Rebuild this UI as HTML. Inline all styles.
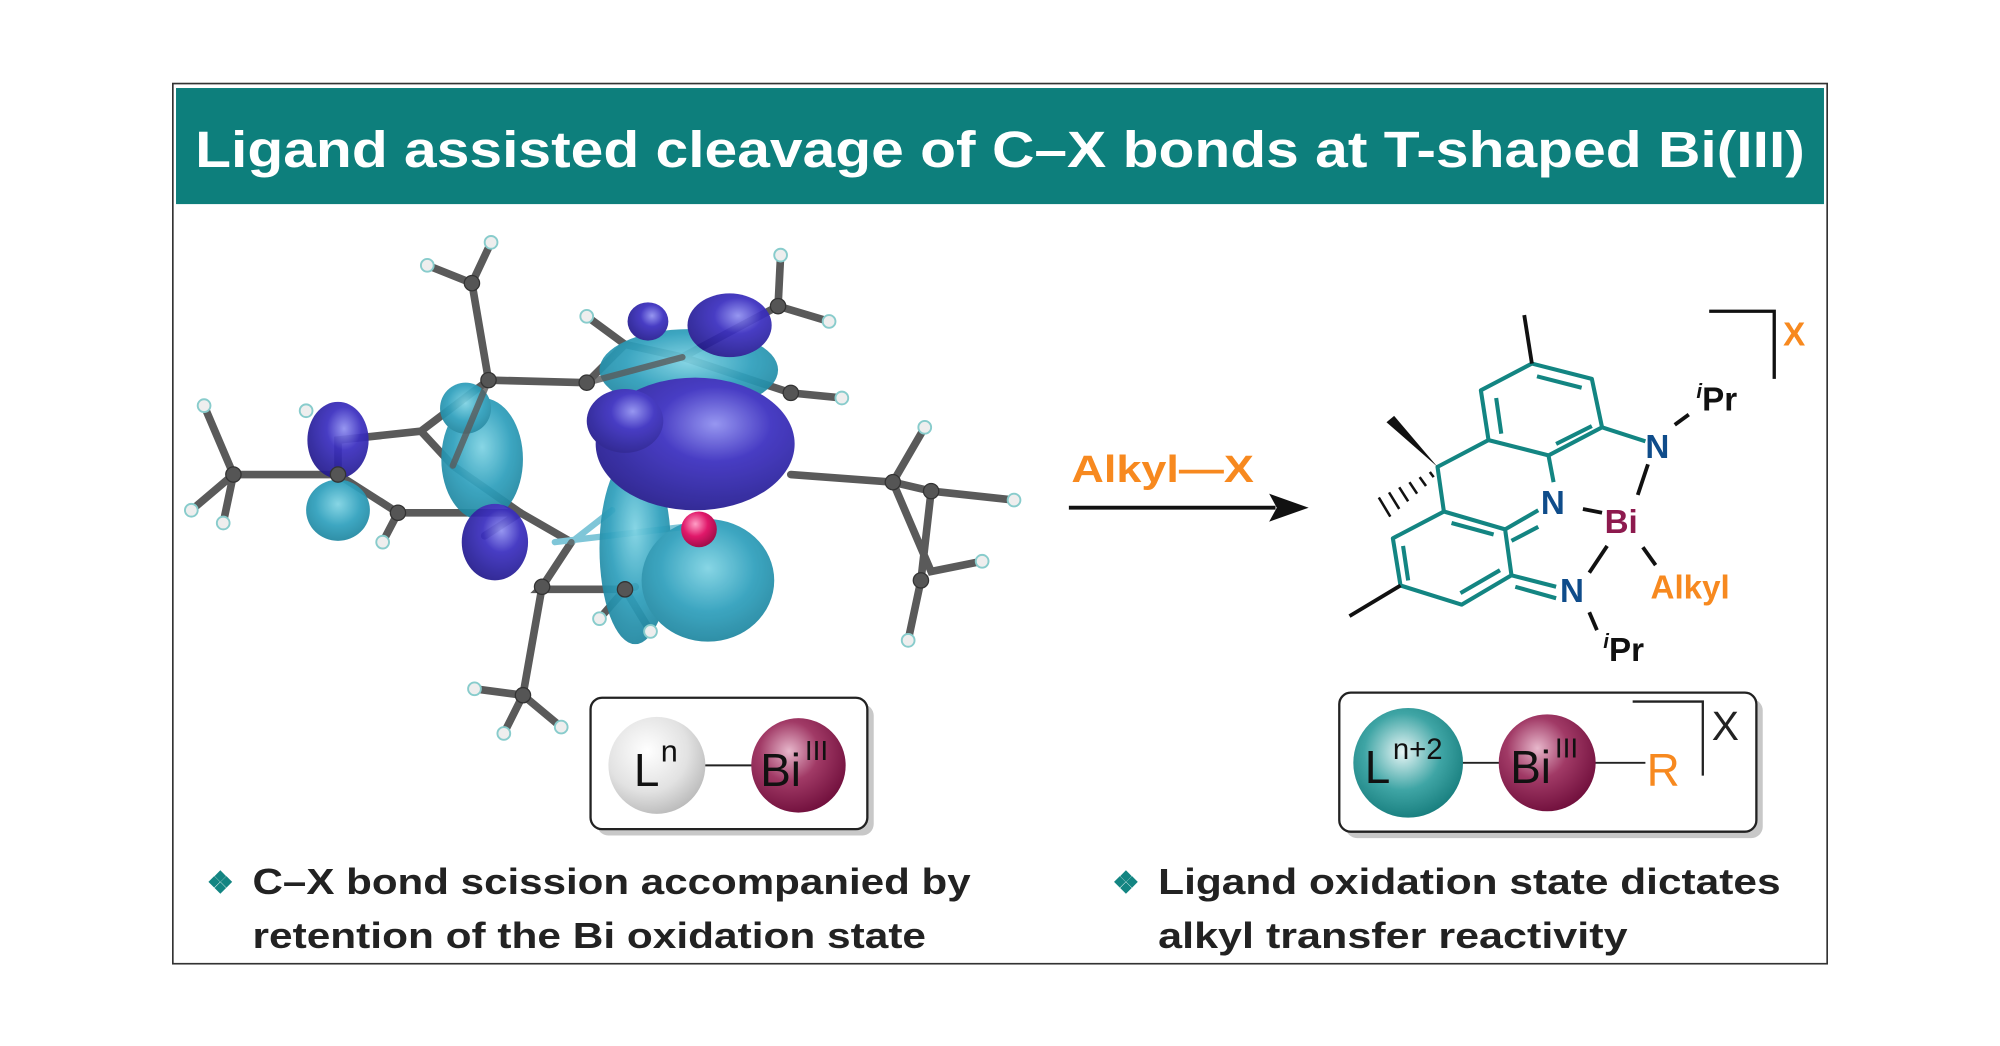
<!DOCTYPE html>
<html><head><meta charset="utf-8"><style>
html,body{margin:0;padding:0;background:#fff;}
svg{display:block;}
</style></head><body>
<svg width="2000" height="1046" viewBox="0 0 1568 820" preserveAspectRatio="none" xmlns="http://www.w3.org/2000/svg" font-family="Liberation Sans, Arial, sans-serif">
<defs>
<radialGradient id="gGrey" cx="0.4" cy="0.35" r="0.7"><stop offset="0" stop-color="#ffffff"/><stop offset="0.6" stop-color="#e2e2e2"/><stop offset="1" stop-color="#b8b8b8"/></radialGradient>
<radialGradient id="gBi" cx="0.4" cy="0.35" r="0.7"><stop offset="0" stop-color="#e7b7cb"/><stop offset="0.45" stop-color="#a13a66"/><stop offset="1" stop-color="#6e0d3a"/></radialGradient>
<radialGradient id="gTeal" cx="0.45" cy="0.4" r="0.7"><stop offset="0" stop-color="#e8f6f6"/><stop offset="0.5" stop-color="#3fa5a5"/><stop offset="1" stop-color="#0c7272"/></radialGradient>
<radialGradient id="gBlue" cx="0.6" cy="0.35" r="0.7"><stop offset="0" stop-color="#8f8ff0"/><stop offset="0.4" stop-color="#3b2fc0"/><stop offset="1" stop-color="#221a8a"/></radialGradient>
<radialGradient id="gCyan" cx="0.5" cy="0.4" r="0.7"><stop offset="0" stop-color="#7fd3e3"/><stop offset="0.5" stop-color="#2fa0bd"/><stop offset="1" stop-color="#1a7d95"/></radialGradient>
<radialGradient id="gPink" cx="0.4" cy="0.35" r="0.7"><stop offset="0" stop-color="#ff9ec6"/><stop offset="0.5" stop-color="#e0186a"/><stop offset="1" stop-color="#9a0c46"/></radialGradient>
</defs>

<rect x="135.5" y="65.5" width="1297" height="690" fill="#fff" stroke="#333" stroke-width="1.3"/>
<rect x="138" y="69" width="1292" height="91" fill="#0d7f7c"/>
<text x="784" y="131" text-anchor="middle" font-size="40" font-weight="bold" fill="#fff" textLength="1262" lengthAdjust="spacingAndGlyphs">Ligand assisted cleavage of C–X bonds at T-shaped Bi(III)</text>

<g stroke="#5a5a5a" stroke-width="6" stroke-linecap="round" fill="none">
<path d="M183,372 L265,372 L312,402 L408,402 L448,425 L425,460 L423,462 L490,462 L498,460"/>
<path d="M265,372 L265,345 L330,338 L383,298 L460,300"/>
<path d="M383,298 L370,222 L335,208 M370,222 L385,190"/>
<path d="M330,338 L355,365 L408,402"/>
<path d="M460,300 L490,270 L535,280 L610,240 L612,200 M610,240 L650,252"/>
<path d="M490,270 L460,248 M535,280 L620,308 L660,312"/>
<path d="M183,372 L160,318 M183,372 L150,400 M183,372 L175,410"/>
<path d="M425,460 L410,545 L372,540 M410,545 L395,575 M410,545 L440,570"/>
<path d="M490,462 L510,495 M490,462 L470,485"/>
<path d="M620,372 L700,378 L730,385 L795,392 M725,335 L700,378 L730,448 L770,440 M730,385 L722,455 L712,502"/>
<path d="M408,402 L380,420 M312,402 L300,425"/>
</g>
<g stroke="#7fc6d8" stroke-width="5" stroke-linecap="round" fill="none">
<path d="M435,425 L545,412 M448,425 L480,400"/>
</g>
<g opacity="0.93">
<ellipse cx="540" cy="290" rx="70" ry="32" fill="url(#gCyan)"/>
<ellipse cx="572" cy="255" rx="33" ry="25" fill="url(#gBlue)"/>
<ellipse cx="508" cy="252" rx="16" ry="15" fill="url(#gBlue)"/>
<ellipse cx="498" cy="430" rx="28" ry="75" fill="url(#gCyan)"/>
<ellipse cx="555" cy="455" rx="52" ry="48" fill="url(#gCyan)"/>
<ellipse cx="545" cy="348" rx="78" ry="52" fill="url(#gBlue)"/>
<ellipse cx="490" cy="330" rx="30" ry="25" fill="url(#gBlue)"/>
<ellipse cx="265" cy="400" rx="25" ry="24" fill="url(#gCyan)"/>
<ellipse cx="265" cy="345" rx="24" ry="30" fill="url(#gBlue)"/>
<ellipse cx="378" cy="360" rx="32" ry="48" fill="url(#gCyan)"/>
<ellipse cx="388" cy="425" rx="26" ry="30" fill="url(#gBlue)"/>
<ellipse cx="365" cy="320" rx="20" ry="20" fill="url(#gCyan)"/>
</g>
<g stroke="#5a5a5a" stroke-width="5" stroke-linecap="round" fill="none" opacity="0.8">
<path d="M460,300 L535,280 M448,425 L425,460 M383,298 L355,365"/>
</g>
<circle cx="548" cy="415" r="14" fill="url(#gPink)"/>
<g fill="#555" stroke="#333" stroke-width="1">
<circle cx="183" cy="372" r="6"/><circle cx="265" cy="372" r="6"/><circle cx="312" cy="402" r="6"/><circle cx="383" cy="298" r="6"/><circle cx="370" cy="222" r="6"/><circle cx="425" cy="460" r="6"/><circle cx="490" cy="462" r="6"/><circle cx="410" cy="545" r="6"/><circle cx="610" cy="240" r="6"/><circle cx="620" cy="308" r="6"/><circle cx="700" cy="378" r="6"/><circle cx="730" cy="385" r="6"/><circle cx="722" cy="455" r="6"/><circle cx="460" cy="300" r="6"/>
</g>
<g fill="#eee" stroke="#8cc" stroke-width="1.5">
<circle cx="160" cy="318" r="5"/><circle cx="150" cy="400" r="5"/><circle cx="175" cy="410" r="5"/><circle cx="335" cy="208" r="5"/><circle cx="385" cy="190" r="5"/><circle cx="612" cy="200" r="5"/><circle cx="650" cy="252" r="5"/><circle cx="660" cy="312" r="5"/><circle cx="460" cy="248" r="5"/><circle cx="372" cy="540" r="5"/><circle cx="395" cy="575" r="5"/><circle cx="440" cy="570" r="5"/><circle cx="510" cy="495" r="5"/><circle cx="470" cy="485" r="5"/><circle cx="795" cy="392" r="5"/><circle cx="725" cy="335" r="5"/><circle cx="770" cy="440" r="5"/><circle cx="712" cy="502" r="5"/><circle cx="300" cy="425" r="5"/><circle cx="240" cy="322" r="5"/>
</g>

<rect x="468" y="552" width="217" height="103" rx="9" fill="#c8c8c8"/>
<rect x="463" y="547" width="217" height="103" rx="9" fill="#fff" stroke="#222" stroke-width="1.8"/>
<line x1="550" y1="600" x2="595" y2="600" stroke="#222" stroke-width="1.5"/>
<circle cx="515" cy="600" r="38" fill="url(#gGrey)"/>
<circle cx="626" cy="600" r="37" fill="url(#gBi)"/>
<text x="497" y="616" font-size="36" fill="#111">L</text><text x="518" y="597" font-size="24" fill="#111">n</text>
<text x="596" y="616" font-size="36" fill="#111">Bi</text><text x="631" y="596" font-size="22" fill="#111">III</text>

<rect x="1055" y="548" width="327" height="109" rx="9" fill="#c8c8c8"/>
<rect x="1050" y="543" width="327" height="109" rx="9" fill="#fff" stroke="#222" stroke-width="1.8"/>
<line x1="1145" y1="598" x2="1178" y2="598" stroke="#222" stroke-width="1.5"/>
<line x1="1250" y1="598" x2="1290" y2="598" stroke="#222" stroke-width="1.5"/>
<circle cx="1104" cy="598" r="43" fill="url(#gTeal)"/>
<circle cx="1213" cy="598" r="38" fill="url(#gBi)"/>
<text x="1070" y="614" font-size="36" fill="#111">L</text><text x="1092" y="595" font-size="23" fill="#111">n+2</text>
<text x="1184" y="614" font-size="36" fill="#111">Bi</text><text x="1219" y="594" font-size="22" fill="#111">III</text>
<text x="1291" y="616" font-size="36" fill="#f7891f">R</text>
<path d="M1280,550 L1335,550 L1335,608" fill="none" stroke="#222" stroke-width="1.8"/>
<text x="1342" y="580" font-size="32" fill="#222">X</text>

<text x="840" y="378" font-size="30" font-weight="bold" fill="#f7891f" textLength="143" lengthAdjust="spacingAndGlyphs">Alkyl—X</text>
<line x1="838" y1="398" x2="1000" y2="398" stroke="#111" stroke-width="3"/>
<polygon points="1026,398 995,387 1001,398 995,409" fill="#111"/>

<g stroke="#138582" stroke-width="3.2" fill="none" stroke-linejoin="round">
<polygon points="1201,285 1248,297 1256,335 1214,357 1167,345 1161,306"/>
<path d="M1205,295 L1240,304 M1173,312 L1177,340 M1220,348 L1248,334"/>
<path d="M1167,345 L1127,366 L1132,401"/>
<polygon points="1132,401 1092,422 1098,459 1146,474 1185,451 1180,415"/>
<path d="M1100,428 L1104,455 M1145,465 L1176,447 M1138,410 L1171,419"/>
<path d="M1214,357 L1218,378 M1256,335 L1290,346"/>
<path d="M1180,415 L1206,400 M1185,424 L1206,413"/>
<path d="M1185,451 L1220,460 M1188,460 L1220,469"/>
</g>
<g stroke="#111" stroke-width="3" fill="none">
<line x1="1201" y1="285" x2="1195" y2="247"/>
<line x1="1098" y1="459" x2="1058" y2="483"/>
<line x1="1313" y1="333" x2="1324" y2="325"/>
<line x1="1292" y1="364" x2="1284" y2="388"/>
<line x1="1241" y1="399" x2="1256" y2="402"/>
<line x1="1260" y1="428" x2="1246" y2="449"/>
<line x1="1288" y1="429" x2="1298" y2="443"/>
<line x1="1246" y1="480" x2="1252" y2="494"/>
<path d="M1340,244 L1391,244 L1391,297" stroke-width="2.6"/>
</g>
<polygon points="1127,366 1087,331 1093,326" fill="#111"/>
<g stroke="#111" stroke-width="2">
<line x1="1121" y1="370" x2="1124" y2="374"/><line x1="1113" y1="374" x2="1118" y2="381"/><line x1="1105" y1="378" x2="1111" y2="387"/><line x1="1097" y1="382" x2="1104" y2="393"/><line x1="1089" y1="386" x2="1097" y2="399"/><line x1="1081" y1="390" x2="1090" y2="405"/>
</g>
<g font-size="26" font-weight="bold">
<text x="1290" y="359" fill="#0f4c8a">N</text>
<text x="1208" y="403" fill="#0f4c8a">N</text>
<text x="1223" y="472" fill="#0f4c8a">N</text>
<text x="1258" y="418" fill="#8d1a4e">Bi</text>
<text x="1294" y="469" fill="#f7891f">Alkyl</text>
<text x="1330" y="322" fill="#111"><tspan font-size="16" dy="-10" font-style="italic">i</tspan><tspan dy="10">Pr</tspan></text>
<text x="1257" y="518" fill="#111"><tspan font-size="16" dy="-10" font-style="italic">i</tspan><tspan dy="10">Pr</tspan></text>
<text x="1398" y="271" fill="#f7891f">X</text>
</g>

<g font-size="28" font-weight="bold" fill="#222">
<text x="162" y="700" fill="#138582" font-size="24">❖</text>
<text x="198" y="701" textLength="563" lengthAdjust="spacingAndGlyphs">C–X bond scission accompanied by</text>
<text x="198" y="743" textLength="528" lengthAdjust="spacingAndGlyphs">retention of the Bi oxidation state</text>
<text x="872" y="700" fill="#138582" font-size="24">❖</text>
<text x="908" y="701" textLength="488" lengthAdjust="spacingAndGlyphs">Ligand oxidation state dictates</text>
<text x="908" y="743" textLength="368" lengthAdjust="spacingAndGlyphs">alkyl transfer reactivity</text>
</g>
</svg>
</body></html>
